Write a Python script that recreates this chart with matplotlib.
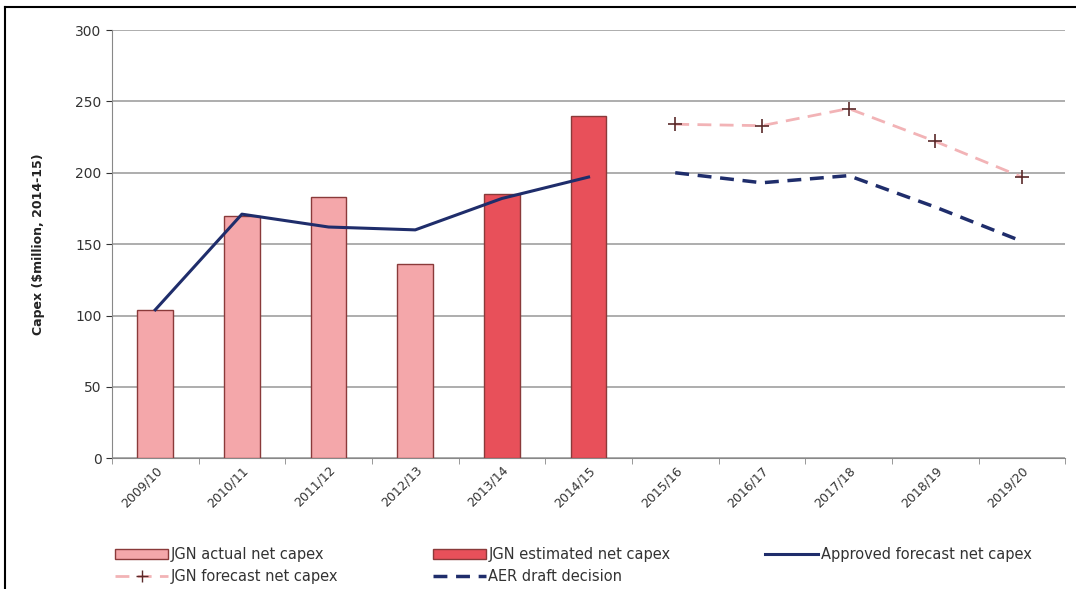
import matplotlib.pyplot as plt
from matplotlib.lines import Line2D
from matplotlib.patches import Patch
import numpy as np

years = ['2009/10', '2010/11', '2011/12', '2012/13', '2013/14', '2014/15',
         '2015/16', '2016/17', '2017/18', '2018/19', '2019/20']
actual = [104, 170, 183, 136]
estimated = [185, 240]
approved = [104, 171, 162, 160, 182, 197]
forecast = [234, 233, 245, 222, 197]
aer_draft = [200, 193, 198, 176, 152]

pink = '#f4a7aa'
red = '#e8505a'
edge = '#8a3a3a'
navy = '#1f2d6b'

fig = plt.figure(figsize=(10.76, 5.89), dpi=100)
ax = fig.add_axes([0.104, 0.222, 0.886, 0.727])

x = np.arange(len(years))
ax.bar(x[:4], actual, width=0.41, color=pink, edgecolor=edge, linewidth=1, zorder=3)
ax.bar(x[4:6], estimated, width=0.41, color=red, edgecolor=edge, linewidth=1, zorder=3)
ax.plot(x[:6], approved, color=navy, lw=2.2, zorder=4)
ax.plot(x[6:], forecast, color='#f2b3b6', lw=2, ls=(0, (5, 3)), marker='+',
        markersize=10, markeredgecolor='#5a2a2a', markeredgewidth=1.2, zorder=4)
ax.plot(x[6:], aer_draft, color=navy, lw=2.5, ls=(0, (4, 2.5)), zorder=4)

ax.set_xlim(-0.5, len(years) - 0.5)
ax.set_ylim(0, 300)
ax.set_yticks(range(0, 301, 50))
ax.yaxis.grid(True, color='#a0a0a0', lw=1.2, zorder=0)
ax.set_xticks(x)
ax.set_xticklabels(years, rotation=45, ha='right', rotation_mode='anchor', fontsize=9, color='#333333')
ax.set_xticks(np.arange(-0.5, len(years)), minor=True)
ax.tick_params(axis='x', which='major', length=0, pad=4)
ax.tick_params(axis='x', which='minor', length=4, color='#888888')
ax.tick_params(axis='y', labelsize=10, colors='#333333', length=4)
ax.set_ylabel('Capex ($million, 2014-15)', fontsize=9, fontweight='bold', color='#222222', labelpad=22)
for s in ['top', 'right']:
    ax.spines[s].set_visible(False)
ax.spines['left'].set_color('#888888')
ax.spines['bottom'].set_color('#888888')

handles = [
    Patch(facecolor=pink, edgecolor=edge, label='JGN actual net capex'),
    Line2D([], [], color='#f2b3b6', lw=2, ls=(0, (5, 3)), marker='+', markersize=9,
           markeredgecolor='#5a2a2a', label='JGN forecast net capex'),
    Patch(facecolor=red, edgecolor=edge, label='JGN estimated net capex'),
    Line2D([], [], color=navy, lw=2.5, ls=(0, (4, 2.5)), label='AER draft decision'),
    Line2D([], [], color=navy, lw=2.2, label='Approved forecast net capex'),
]
fig.legend(handles=handles, loc='lower left', bbox_to_anchor=(0.095, -0.014), ncol=3,
           frameon=False, fontsize=10.5, handlelength=3.6, columnspacing=6.5,
           handletextpad=0.2, labelspacing=0.5, labelcolor='#333333')

# outer frame
fig.add_artist(Line2D([0.005, 1.0], [0.988, 0.988], color='black', lw=1.5, transform=fig.transFigure))
fig.add_artist(Line2D([0.005, 0.005], [0.0, 0.988], color='black', lw=1.5, transform=fig.transFigure))

fig.savefig('out.png', dpi=100)
